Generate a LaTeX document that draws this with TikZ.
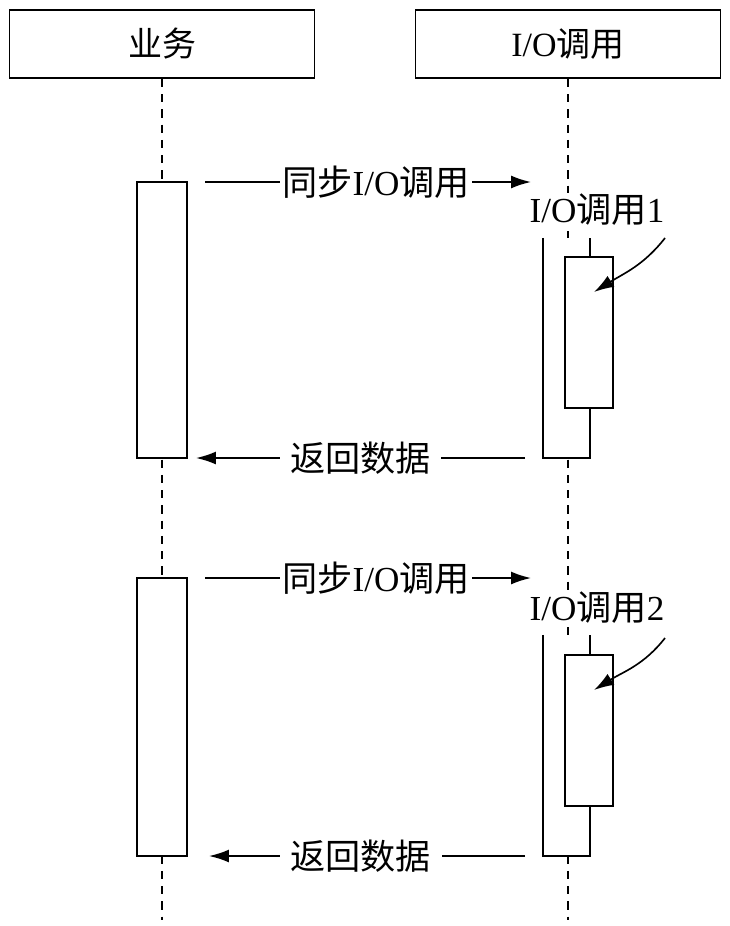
\documentclass[tikz,border=0pt]{standalone}
\usepackage{fontspec}
\setmainfont{Liberation Serif}
\newfontfamily\cjk{Noto Sans CJK SC}
\usetikzlibrary{arrows.meta}

\begin{document}
\begin{tikzpicture}[x=0.03cm, y=0.03cm,
  head/.style={draw, line width=1.6pt, minimum width=9.15cm, minimum height=2.04cm,
               inner sep=0pt, font=\fontsize{29}{33}\selectfont},
  life/.style={line width=1.4pt, dash pattern=on 7pt off 6pt},
  act/.style={draw, fill=white, line width=1.6pt, minimum width=1.5cm, inner sep=0pt},
  wrap/.style={fill=white, minimum width=1.41cm, inner sep=0pt},
  call/.style={draw, fill=white, line width=1.6pt, minimum width=1.44cm,
               minimum height=4.53cm, inner sep=0pt},
  msg/.style={-{Latex[length=17pt,width=11pt]}, line width=1.4pt},
  lbl/.style={fill=white, inner ysep=2pt, inner xsep=2pt, font=\fontsize{30}{34}\selectfont},
  note/.style={fill=white, inner sep=1pt, font=\fontsize{30}{34}\selectfont}
]
  \useasboundingbox (0,0) rectangle (730,-926);

  % lifelines
  \node[head] (biz) at (162,-44) {\cjk 业务};
  \node[head] (io) at (568,-44) {I/O{\cjk 调用}};
  \coordinate (bizend) at (162,-920);
  \coordinate (ioend) at (568,-920);
  \draw[life] (biz.south) -- (bizend);
  \draw[life] (io.south) -- (ioend);

  % first call
  \node[act, minimum height=8.28cm] (act1) at (162,-320) {};
  \node[wrap, minimum height=6.6cm] (wrap1) at (566.5,-348) {};
  \draw[line width=1.6pt] (wrap1.north west) -- (wrap1.south west)
    -- (wrap1.south east) -- (wrap1.north east);
  \node[call] (call1) at (589,-332.5) {};
  \node[note] (tag1) at (597,-210) {I/O{\cjk 调用}1};

  \coordinate (go1a) at (205,-182);
  \coordinate (go1b) at (531,-182);
  \draw[msg] (go1a) -- node[lbl, pos=0.525] {{\cjk 同步}I/O{\cjk 调用}} (go1b);
  \coordinate (back1a) at (525,-458);
  \coordinate (back1b) at (196,-458);
  \draw[msg] (back1a) -- node[lbl, inner xsep=9pt] {\cjk 返回数据} (back1b);
  \coordinate (from1) at (665,-238);
  \coordinate (tip1) at (594,-292);
  \draw[msg] (from1) to[out=-128, in=32] (tip1);

  % second call
  \node[act, minimum height=8.34cm] (act2) at (162,-717) {};
  \node[wrap, minimum height=6.63cm] (wrap2) at (566.5,-745.5) {};
  \draw[line width=1.6pt] (wrap2.north west) -- (wrap2.south west)
    -- (wrap2.south east) -- (wrap2.north east);
  \node[call] (call2) at (589,-730.5) {};
  \node[note] (tag2) at (597,-608) {I/O{\cjk 调用}2};

  \coordinate (go2a) at (205,-578);
  \coordinate (go2b) at (531,-578);
  \draw[msg] (go2a) -- node[lbl, pos=0.525] {{\cjk 同步}I/O{\cjk 调用}} (go2b);
  \coordinate (back2a) at (525,-856);
  \coordinate (back2b) at (209,-856);
  \draw[msg] (back2a) -- node[lbl, inner xsep=9pt, pos=0.52] {\cjk 返回数据} (back2b);
  \coordinate (from2) at (665,-638);
  \coordinate (tip2) at (594,-690);
  \draw[msg] (from2) to[out=-128, in=32] (tip2);
\end{tikzpicture}
\end{document}
